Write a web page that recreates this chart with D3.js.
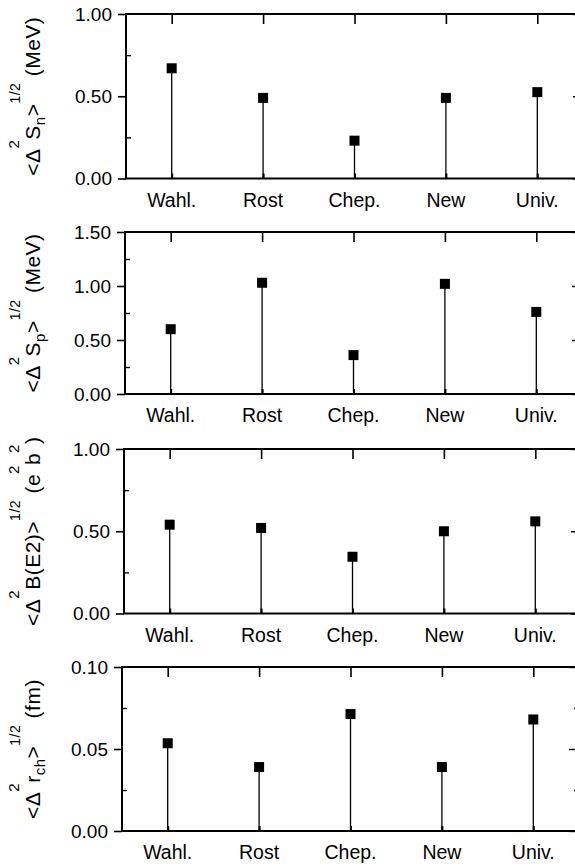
<!DOCTYPE html>
<html>
<head>
<meta charset="utf-8">
<script src="https://cdn.jsdelivr.net/npm/d3@7"></script>
<style>
  html, body { margin: 0; padding: 0; background: #fff; }
  svg { display: block; }
</style>
</head>
<body>
<svg id="chart" width="575" height="866"></svg>
<script>
// Model comparison: rms deviations of four observables
const categories = ["Wahl.", "Rost", "Chep.", "New", "Univ."];

const snValues  = [0.67, 0.49, 0.23, 0.49, 0.525];
const spValues  = [0.60, 1.03, 0.36, 1.02, 0.76];
const be2Values = [0.54, 0.52, 0.345, 0.50, 0.56];
const rchValues = [0.0535, 0.039, 0.0713, 0.039, 0.068];

const snTicks  = [0, 0.5, 1.0];
const spTicks  = [0, 0.5, 1.0, 1.5];
const be2Ticks = [0, 0.5, 1.0];
const rchTicks = [0, 0.05, 0.10];

// axis titles as [text, role] segments
const snTitle  = [["<Δ", "n"], ["2", "sup"], ["S", "n"], ["n", "sub"], [">", "n"], ["1/2", "sup2"], [" (MeV)", "n"]];
const spTitle  = [["<Δ", "n"], ["2", "sup"], ["S", "n"], ["p", "sub"], [">", "n"], ["1/2", "sup2"], [" (MeV)", "n"]];
const be2Title = [["<Δ", "n"], ["2", "sup"], ["B(E2)>", "n"], ["1/2", "sup2"], [" (e", "n"], ["2", "sup"], ["b", "n"], ["2", "sup"], [")", "n"]];
const rchTitle = [["<Δ", "n"], ["2", "sup"], ["r", "n"], ["ch", "sub"], [">", "n"], ["1/2", "sup2"], [" (fm)", "n"]];

const FONT = "'Liberation Sans', Arial, Helvetica, sans-serif";
const svg = d3.select("#chart");

const panels = [
  { values: snValues,  ticks: snTicks,  title: snTitle,  top: 14,  bottom: 178.5, left: 126 },
  { values: spValues,  ticks: spTicks,  title: spTitle,  top: 232, bottom: 394,   left: 125 },
  { values: be2Values, ticks: be2Ticks, title: be2Title, top: 449, bottom: 613.5, left: 124 },
  { values: rchValues, ticks: rchTicks, title: rchTitle, top: 667, bottom: 831,   left: 122 }
];
const plotWidth = 457;

const roleStyle = {
  n:    { size: 21, shift: 0 },
  sup:  { size: 15, shift: -21 },
  sup2: { size: 14, shift: -20 },
  sub:  { size: 15, shift: 5 }
};

panels.forEach(p => {
  const right = p.left + plotWidth;
  const x = d3.scalePoint().domain(categories).range([p.left, right]).padding(0.5);
  const yMax = p.ticks[p.ticks.length - 1];
  const y = d3.scaleLinear().domain([0, yMax]).range([p.bottom, p.top]);
  const step = p.ticks[1] - p.ticks[0];
  const minor = p.ticks.slice(0, -1).map(t => t + step / 2);
  const fmt = d3.format(".2f");

  const g = svg.append("g");

  // left axis: major ticks outward, minor inward
  g.append("g")
    .attr("transform", `translate(${p.left},0)`)
    .call(d3.axisLeft(y).tickValues(p.ticks).tickSize(8).tickPadding(6).tickFormat(fmt))
    .call(a => a.select(".domain").remove())
    .call(a => a.selectAll("line").attr("stroke", "#000").attr("stroke-width", 1.6))
    .call(a => a.selectAll("text").attr("font-family", FONT).attr("font-size", 19).attr("fill", "#000"));
  g.append("g")
    .attr("transform", `translate(${p.left},0)`)
    .call(d3.axisRight(y).tickValues(minor).tickSize(5).tickFormat(""))
    .call(a => a.select(".domain").remove())
    .call(a => a.selectAll("line").attr("stroke", "#000").attr("stroke-width", 1.4));

  // right axis: inward ticks
  g.append("g")
    .attr("transform", `translate(${right},0)`)
    .call(d3.axisLeft(y).tickValues(p.ticks).tickSize(10).tickFormat(""))
    .call(a => a.select(".domain").remove())
    .call(a => a.selectAll("line").attr("stroke", "#000").attr("stroke-width", 1.4));
  g.append("g")
    .attr("transform", `translate(${right},0)`)
    .call(d3.axisLeft(y).tickValues(minor).tickSize(5).tickFormat(""))
    .call(a => a.select(".domain").remove())
    .call(a => a.selectAll("line").attr("stroke", "#000").attr("stroke-width", 1.4));

  // top axis: inward category ticks
  g.append("g")
    .attr("transform", `translate(0,${p.top})`)
    .call(d3.axisBottom(x).tickSize(10).tickFormat(""))
    .call(a => a.select(".domain").remove())
    .call(a => a.selectAll("line").attr("stroke", "#000").attr("stroke-width", 1.6));

  // bottom axis: category labels with short inward ticks
  g.append("g")
    .attr("transform", `translate(0,${p.bottom})`)
    .call(d3.axisTop(x).tickSize(5).tickFormat(""))
    .call(a => a.select(".domain").remove())
    .call(a => a.selectAll("line").attr("stroke", "#000").attr("stroke-width", 2));
  g.append("g")
    .selectAll("text")
    .data(categories)
    .join("text")
    .attr("x", d => x(d))
    .attr("y", p.bottom + 28)
    .attr("text-anchor", "middle")
    .attr("font-family", FONT)
    .attr("font-size", 19.5)
    .attr("fill", "#000")
    .text(d => d);

  // stems and square markers
  const pts = categories.map((c, i) => ({ c, v: p.values[i] }));
  g.append("g")
    .selectAll("line")
    .data(pts)
    .join("line")
    .attr("x1", d => x(d.c)).attr("x2", d => x(d.c))
    .attr("y1", y(0)).attr("y2", d => y(d.v))
    .attr("stroke", "#000").attr("stroke-width", 1.3);
  const ms = 10;
  g.append("g")
    .selectAll("rect")
    .data(pts)
    .join("rect")
    .attr("x", d => x(d.c) - ms / 2)
    .attr("y", d => y(d.v) - ms / 2)
    .attr("width", ms).attr("height", ms)
    .attr("fill", "#000");

  // frame
  g.append("rect")
    .attr("x", p.left).attr("y", p.top)
    .attr("width", plotWidth).attr("height", p.bottom - p.top)
    .attr("fill", "none").attr("stroke", "#000").attr("stroke-width", 2);

  // rotated y-axis title
  const cy = (p.top + p.bottom) / 2;
  const t = g.append("text")
    .attr("transform", `translate(40,${cy}) rotate(-90)`)
    .attr("text-anchor", "middle")
    .attr("font-family", FONT)
    .attr("letter-spacing", 0.5)
    .attr("fill", "#000");
  let cur = 0;
  p.title.forEach(([txt, role]) => {
    const st = roleStyle[role];
    t.append("tspan")
      .attr("dy", st.shift - cur)
      .attr("font-size", st.size)
      .text(txt);
    cur = st.shift;
  });
});
</script>
</body>
</html>
